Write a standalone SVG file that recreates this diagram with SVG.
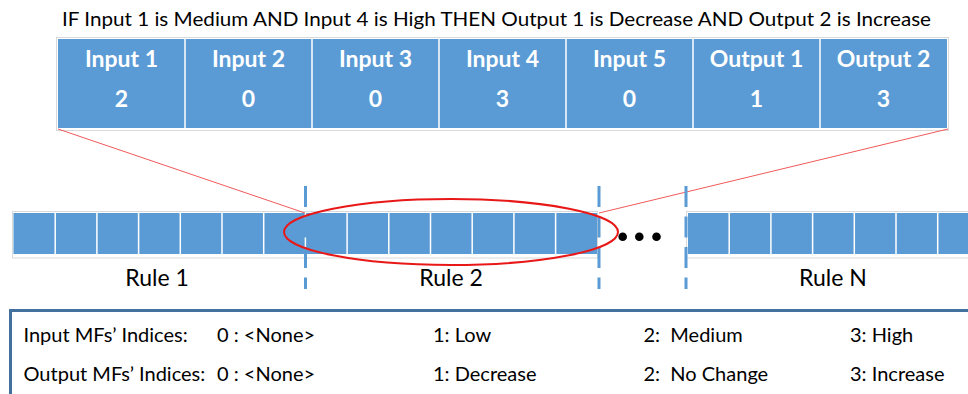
<svg xmlns="http://www.w3.org/2000/svg" width="968" height="394" viewBox="0 0 968 394">
  <style>
    .txt { font-family: Lato, "Liberation Sans", sans-serif; fill: #000; white-space: pre; }
    .hdr { font-family: Lato, "Liberation Sans", sans-serif; font-weight: bold; font-size: 23px; fill: #fff; text-anchor: middle; }
    .cell { fill: #5b9bd5; }
    .div { stroke: #fff; stroke-width: 1.5; }
    .frame { fill: none; stroke: #d9d9d9; stroke-width: 1; }
    .sep { stroke: #5b9bd5; stroke-width: 3; stroke-dasharray: 21 9.5; fill: none; }
    .zoomline { stroke: #f05a5a; stroke-width: 1; fill: none; }
  </style>
  <rect width="968" height="394" fill="#fff"/>

  <!-- rule statement -->
  <text class="txt" x="62" y="26" font-size="20" textLength="869" lengthAdjust="spacingAndGlyphs">IF Input 1 is Medium AND Input 4 is High THEN Output 1 is Decrease AND Output 2 is Increase</text>

  <!-- expanded rule: one column per variable -->
  <g id="rule-detail">
    <rect class="frame" x="56.5" y="37.5" width="892" height="93"/>
    <rect class="cell" x="58" y="39" width="889" height="89"/>
    <g class="div">
      <line x1="185" y1="39" x2="185" y2="128"/>
      <line x1="312" y1="39" x2="312" y2="128"/>
      <line x1="439" y1="39" x2="439" y2="128"/>
      <line x1="566" y1="39" x2="566" y2="128"/>
      <line x1="693" y1="39" x2="693" y2="128"/>
      <line x1="820" y1="39" x2="820" y2="128"/>
    </g>
    <g class="hdr">
      <text x="121.5" y="67">Input 1</text>
      <text x="248.5" y="67">Input 2</text>
      <text x="375.5" y="67">Input 3</text>
      <text x="502.5" y="67">Input 4</text>
      <text x="629.5" y="67">Input 5</text>
      <text x="756.5" y="67">Output 1</text>
      <text x="883.5" y="67">Output 2</text>
      <text x="121.5" y="107">2</text>
      <text x="248.5" y="107">0</text>
      <text x="375.5" y="107">0</text>
      <text x="502.5" y="107">3</text>
      <text x="629.5" y="107">0</text>
      <text x="756.5" y="107">1</text>
      <text x="883.5" y="107">3</text>
    </g>
  </g>

  <!-- rule base strip: rules 1 and 2 -->
  <g id="rules-1-2">
    <rect class="frame" x="12.5" y="211.5" width="585" height="46.5"/>
    <rect class="cell" x="13.5" y="213" width="583.5" height="41"/>
    <g class="div">
      <line x1="55.2" y1="213" x2="55.2" y2="254"/>
      <line x1="96.9" y1="213" x2="96.9" y2="254"/>
      <line x1="138.6" y1="213" x2="138.6" y2="254"/>
      <line x1="180.3" y1="213" x2="180.3" y2="254"/>
      <line x1="222" y1="213" x2="222" y2="254"/>
      <line x1="263.7" y1="213" x2="263.7" y2="254"/>
      <line x1="305.4" y1="213" x2="305.4" y2="254"/>
      <line x1="347.1" y1="213" x2="347.1" y2="254"/>
      <line x1="388.8" y1="213" x2="388.8" y2="254"/>
      <line x1="430.5" y1="213" x2="430.5" y2="254"/>
      <line x1="472.2" y1="213" x2="472.2" y2="254"/>
      <line x1="513.9" y1="213" x2="513.9" y2="254"/>
      <line x1="555.6" y1="213" x2="555.6" y2="254"/>
    </g>
  </g>

  <!-- rule base strip: rule N -->
  <g id="rule-n">
    <rect class="frame" x="686.5" y="211.5" width="300" height="46.5"/>
    <rect class="cell" x="688" y="213" width="290" height="41"/>
    <g class="div">
      <line x1="729.2" y1="213" x2="729.2" y2="254"/>
      <line x1="770.9" y1="213" x2="770.9" y2="254"/>
      <line x1="812.6" y1="213" x2="812.6" y2="254"/>
      <line x1="854.3" y1="213" x2="854.3" y2="254"/>
      <line x1="896" y1="213" x2="896" y2="254"/>
      <line x1="937.7" y1="213" x2="937.7" y2="254"/>
    </g>
  </g>

  <g id="connectors">
    <line class="zoomline" x1="58" y1="129" x2="305" y2="213"/>
    <line class="zoomline" x1="948" y1="129" x2="599" y2="213"/>
    <line class="sep" x1="305.5" y1="186" x2="305.5" y2="289"/>
    <line class="sep" x1="599" y1="186" x2="599" y2="289"/>
    <line class="sep" x1="686" y1="186" x2="686" y2="289"/>
    <ellipse cx="451" cy="232" rx="167" ry="33" fill="none" stroke="#e81818" stroke-width="2"/>
  </g>

  <!-- ellipsis between rule 2 and rule N -->
  <g id="ellipsis" fill="#000">
    <circle cx="622.7" cy="236.7" r="4.3"/>
    <circle cx="639.3" cy="236.7" r="4.3"/>
    <circle cx="656.5" cy="236.7" r="4.3"/>
  </g>

  <g class="txt" font-size="23" text-anchor="middle">
    <text x="157" y="285.5">Rule 1</text>
    <text x="451" y="285.5">Rule 2</text>
    <text x="833" y="285.5">Rule N</text>
  </g>

  <!-- membership function index legend -->
  <g id="legend">
    <rect x="10.5" y="310.5" width="1000" height="200" fill="none" stroke="#41719c" stroke-width="3"/>
    <g class="txt" font-size="20">
      <text x="23.5" y="342">Input MFs’ Indices:</text>
      <text x="217" y="342">0 : &lt;None&gt;</text>
      <text x="433" y="342">1: Low</text>
      <text x="643.5" y="342">2:&#160; Medium</text>
      <text x="850" y="342">3: High</text>
      <text x="23.5" y="381">Output MFs’ Indices:</text>
      <text x="217" y="381">0 : &lt;None&gt;</text>
      <text x="433" y="381">1: Decrease</text>
      <text x="643.5" y="381">2:&#160; No Change</text>
      <text x="850" y="381">3: Increase</text>
    </g>
  </g>
</svg>
